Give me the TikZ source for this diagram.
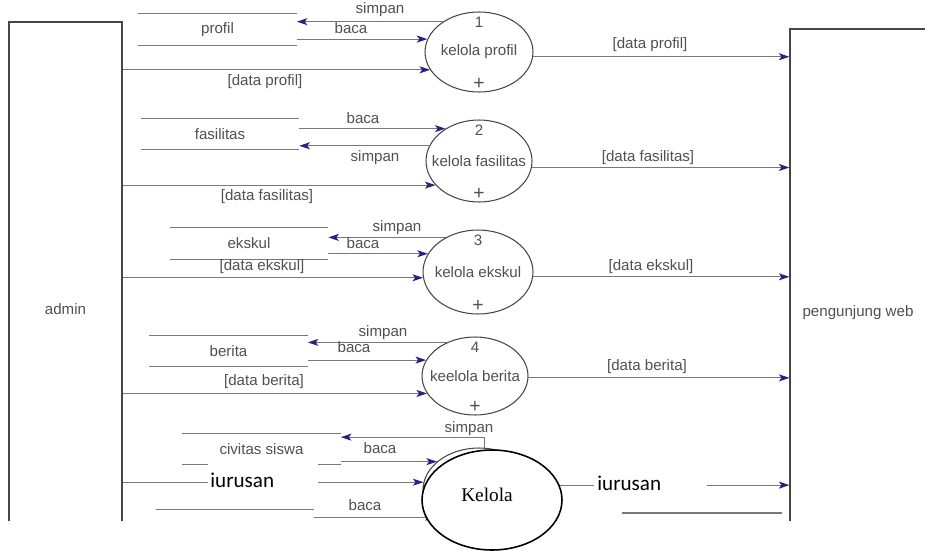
\documentclass[tikz,border=0pt]{standalone}
\usepackage{fontspec}
\setmainfont{Liberation Sans}
\newfontfamily\calfont{Carlito}
\newfontfamily\timesfont{Liberation Serif}
\usetikzlibrary{arrows.meta, positioning, shapes.geometric}

\definecolor{linegray}{RGB}{120,120,120}
\definecolor{boxgray}{RGB}{70,70,70}
\definecolor{tipblue}{RGB}{35,35,130}
\definecolor{txtgray}{RGB}{80,80,80}

\tikzset{
  lbl/.style={font=\fontsize{8.6}{10}\selectfont, text=txtgray, inner sep=0pt},
  plus/.style={font=\fontsize{11}{12}\selectfont, text=txtgray, inner sep=0pt},
  proc/.style={draw=boxgray, ellipse, inner sep=0pt, line width=0.6pt},
  store/.style={minimum width=3.16cm, minimum height=0.62cm, inner sep=0pt,
    font=\fontsize{8.6}{10}\selectfont, text=txtgray},
  ent/.style={draw=boxgray, line width=0.7pt, inner sep=0pt,
    font=\fontsize{8.6}{10}\selectfont, text=txtgray},
  flow/.style={draw=linegray, line width=0.6pt, -{Stealth[length=6pt, width=4pt, inset=1.5pt, color=tipblue]}},
  plain/.style={draw=linegray, line width=0.6pt},
  jur/.style={font=\calfont\fontsize{12}{14}\selectfont, inner sep=0pt},
  kel/.style={ellipse, draw=black, fill=white, line width=0.9pt, inner sep=0pt,
    minimum width=2.8cm, minimum height=2cm},
}

\begin{document}
\begin{tikzpicture}[x=0.02cm, y=-0.02cm]
    \useasboundingbox (0,0) rectangle (925,551);

    \begin{scope}
    \clip (0,0) rectangle (925,520);

    % External entities
    \node[ent, minimum width=2.26cm, minimum height=11.48cm] (admin) at (65.5,309) {admin};
    \node[ent, minimum width=2.72cm, minimum height=11.36cm] (web) at (858,313) {pengunjung web};

    % Processes
    \node[proc, minimum width=2.16cm, minimum height=1.6cm] (p1) at (479,52) {};
    \node[proc, minimum width=2.12cm, minimum height=1.64cm] (p2) at (479,161) {};
    \node[proc, minimum width=2.2cm, minimum height=1.68cm] (p3) at (478,272) {};
    \node[proc, minimum width=2.12cm, minimum height=1.56cm] (p4) at (475,376) {};
    \node[proc, minimum width=2.24cm, minimum height=1.68cm] (p5) at (479,490) {};

    \foreach \p/\n/\t in {p1/1/kelola profil, p2/2/kelola fasilitas, p3/3/kelola ekskul, p4/4/keelola berita}
    {
        \node[lbl] (\p-name) at (\p.center) {\t};
        \node[lbl, below=3pt of \p.north] (\p-num) {\n};
        \node[plus, above=1.5pt of \p.south] (\p-plus) {+};
    }

    % Data stores
    \node[store] (st1) at (217.5,29.5) {profil};
    \node[store] (st2) at (220,134) {fasilitas};
    \node[store] (st3) at (249,243.5) {ekskul};
    \node[store] (st4) at (228.5,351) {berita};
    \node[store] (st5) at (261.5,449) {civitas siswa};
    \node[store] (st6) at (235,525.5) {};
    \foreach \s in {st1,st2,st3,st4,st5,st6}
    {
        \draw[plain] (\s.north west) -- (\s.north east) (\s.south west) -- (\s.south east);
    }

    % Flows of process 1
    \draw[flow] (p1.140) -- (st1.east |- p1.140);
    \draw[flow] (st1.east |- p1.166) -- (p1.166);
    \draw[flow] (admin.east |- p1.200) -- (p1.200);
    \draw[flow] (p1.355) -- (web.west |- p1.355);
    \node[lbl] (l1s) at (380,10) {simpan};
    \node[lbl] (l1b) at (351,28) {baca};
    \node[lbl] (l1d) at (265,82) {[data profil]};
    \node[lbl] (l1o) at (650,45) {[data profil]};

    % Flows of process 2
    \draw[flow] (st2.east |- p2.136) -- (p2.136);
    \draw[flow] (p2.163) -- (st2.east |- p2.163);
    \draw[flow] (admin.east |- p2.209) -- (p2.209);
    \draw[flow] (p2.353) -- (web.west |- p2.353);
    \node[lbl] (l2b) at (363,118) {baca};
    \node[lbl] (l2s) at (375,158) {simpan};
    \node[lbl] (l2d) at (267,197) {[data fasilitas]};
    \node[lbl] (l2o) at (648,158) {[data fasilitas]};

    % Flows of process 3
    \draw[flow] (p3.133) -- (st3.east |- p3.133);
    \draw[flow] (st3.east |- p3.160) -- (p3.160);
    \draw[flow] (admin.east |- p3.186) -- (p3.186);
    \draw[flow] (p3.355) -- (web.west |- p3.355);
    \node[lbl] (l3s) at (397,228) {simpan};
    \node[lbl] (l3b) at (363,243) {baca};
    \node[lbl] (l3d) at (262,267) {[data ekskul]};
    \node[lbl] (l3o) at (651,267) {[data ekskul]};

    % Flows of process 4
    \draw[flow] (p4.130) -- (st4.east |- p4.130);
    \draw[flow] (st4.east |- p4.162) -- (p4.162);
    \draw[flow] (admin.east |- p4.200) -- (p4.200);
    \draw[flow] (p4.358) -- (web.west |- p4.358);
    \node[lbl] (l4s) at (383,333) {simpan};
    \node[lbl] (l4b) at (354,347) {baca};
    \node[lbl] (l4d) at (264,382) {[data berita]};
    \node[lbl] (l4o) at (647,367) {[data berita]};

    % Flows of process 5
    \draw[flow] (p5.82) |- ([yshift=-0.08cm]st5.north east);
    \draw[flow] (st5.east |- p5.146) -- (p5.146);
    \draw[flow] (admin.east |- p5.172) -- (p5.172);
    \draw[flow] (st6.east |- p5.212) -- (p5.212);
    \draw[flow] (p5.5) -- (web.west |- p5.5);
    \coordinate (r1) at (622,513);
    \coordinate (r2) at (782,513);
    \draw[plain] (r1) -- (r2);
    \node[lbl] (l5s) at (469,429) {simpan};
    \node[lbl] (l5b) at (380,448) {baca};
    \node[lbl] (l6b) at (365,505) {baca};
    \end{scope}

    % Pasted-over parts
    \fill[white] (208,457) rectangle (318,489);
    \node[jur, anchor=base west] (j1) at (210,487) {iurusan};
    \fill[white] (594,466) rectangle (707,495);
    \node[jur, anchor=base west] (j2) at (597,490) {iurusan};
    \node[kel] (k5) at (492,500) {};
    \node[font=\timesfont\fontsize{11}{13}\selectfont, inner sep=0pt] (k5t) at (487,495) {Kelola};
\end{tikzpicture}
\end{document}
